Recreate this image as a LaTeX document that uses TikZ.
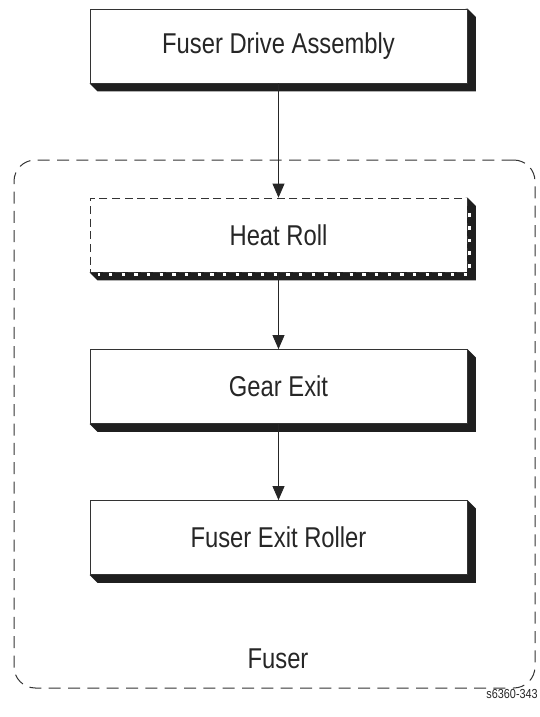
\documentclass[tikz,border=0pt]{standalone}
\usepackage{fontspec}
\setmainfont[FakeStretch=0.83]{Liberation Sans}
\usetikzlibrary{arrows.meta,backgrounds}

\begin{document}
\begin{tikzpicture}[x=0.75pt,y=-0.75pt,>={Triangle[width=9pt,length=10.5pt]},
  box/.style={draw=black!80,line width=0.6pt,fill=white,minimum width=282.75pt,
    minimum height=55.5pt,inner sep=0pt,text=black!85,font=\fontsize{21.5}{24}\selectfont},
  dashbox/.style={box,dash pattern=on 6pt off 3.5pt},
  link/.style={->,draw=black!85,line width=0.6pt},
  shadowfill/.style={fill=black!88}]
\useasboundingbox (0,0) rectangle (539,717);
% ---------- Fuser (dashed group) ----------
\node[draw=black!80,line width=0.75pt,dash pattern=on 9pt off 5.5pt,rounded corners=16pt,
  minimum width=390.75pt,minimum height=396pt,inner sep=0pt] (fuser) at (274.5,424) {};
\node[text=black!85,font=\fontsize{21.5}{24}\selectfont] (fuserlbl) at (278,659) {Fuser};
% ---------- boxes ----------
\node[box] (drive) at (278.5,46) {Fuser Drive Assembly};
\node[dashbox] (heat) at (278.5,235) {Heat Roll};
\node[box] (gear) at (278.5,386.5) {Gear Exit};
\node[box] (exit) at (278.5,537.5) {Fuser Exit Roller};
% ---------- shadows ----------
\begin{scope}[on background layer]
\foreach \n in {drive,heat,gear,exit}{
  \fill[shadowfill] (\n.north east) -- ++(8.5,8.5) -- ([shift={(8.5,8)}]\n.south east)
    -- ([shift={(8,8)}]\n.south west) -- (\n.south west) -- cycle;
}
\end{scope}
% gaps of the dashed shadow
\draw[white,line width=1.8pt,dash pattern=on 2.6pt off 6.9pt,dash phase=1pt]
  ([shift={(8,2)}]heat.south west) -- ([shift={(2,2)}]heat.south east)
  -- ([shift={(2,8)}]heat.north east);
% ---------- links ----------
\draw[link] (drive) -- (heat);
\draw[link] (heat) -- (gear);
\draw[link] (gear) -- (exit);
% figure number
\node[anchor=base east,inner sep=0pt,text=black!85,font=\fontsize{9.8}{11}\selectfont]
  (figno) at (538,698) {s6360-343};
\end{tikzpicture}
\end{document}
